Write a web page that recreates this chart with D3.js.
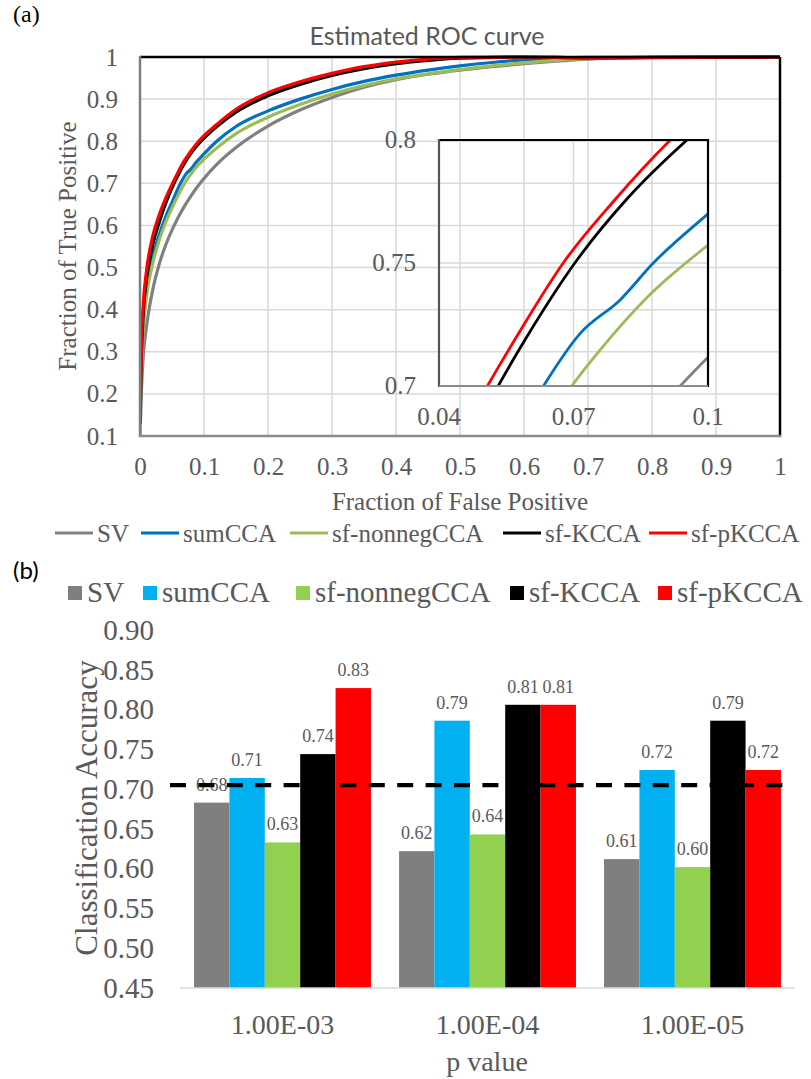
<!DOCTYPE html>
<html>
<head>
<meta charset="utf-8">
<script src="https://cdn.jsdelivr.net/npm/d3@7"></script>
<style>
  body { margin: 0; background: #fff; }
  text { fill: #595959; }
</style>
</head>
<body>
<div id="fig"></div>
<script>
// ---- (a) ROC curves ----
var rocNames = ["SV", "sumCCA", "sf-nonnegCCA", "sf-KCCA", "sf-pKCCA"];
var rocColours = ["#808080", "#0070c0", "#9bbb59", "#000000", "#ff0000"];

var svFpr = [0, 0.002, 0.005, 0.01, 0.02, 0.03, 0.04, 0.05, 0.06, 0.07, 0.08, 0.0938, 0.1, 0.12, 0.15, 0.2, 0.25, 0.3, 0.35, 0.4, 0.45, 0.5, 0.55, 0.6, 0.65, 0.7, 0.8, 1];
var svTpr = [0.10, 0.20, 0.288, 0.358, 0.448, 0.508, 0.553, 0.589, 0.620, 0.647, 0.671, 0.70, 0.7117, 0.745, 0.785, 0.836, 0.874, 0.904, 0.928, 0.946, 0.959, 0.969, 0.977, 0.984, 0.99, 0.995, 0.999, 1];

var sumFpr = [0, 0.002, 0.005, 0.01, 0.02, 0.03, 0.04, 0.05, 0.0633, 0.0715, 0.0804, 0.0878, 0.1, 0.12, 0.15, 0.2, 0.25, 0.3, 0.35, 0.4, 0.45, 0.5, 0.55, 0.6, 0.65, 0.7, 1];
var sumTpr = [0.12, 0.26, 0.37, 0.445, 0.525, 0.578, 0.62, 0.655, 0.70, 0.7214, 0.735, 0.75, 0.770, 0.80, 0.835, 0.872, 0.90, 0.923, 0.942, 0.957, 0.969, 0.979, 0.987, 0.993, 0.997, 0.999, 1];

var nonnegFpr = [0, 0.002, 0.005, 0.01, 0.02, 0.03, 0.04, 0.05, 0.06, 0.0696, 0.0759, 0.0864, 0.1, 0.12, 0.15, 0.2, 0.25, 0.3, 0.35, 0.4, 0.45, 0.5, 0.55, 0.6, 0.65, 0.7, 0.8, 1];
var nonnegTpr = [0.11, 0.24, 0.35, 0.43, 0.51, 0.565, 0.607, 0.642, 0.673, 0.70, 0.7146, 0.736, 0.7573, 0.784, 0.818, 0.857, 0.887, 0.912, 0.932, 0.948, 0.96, 0.97, 0.979, 0.986, 0.992, 0.996, 0.999, 1];

var kccaFpr = [0, 0.002, 0.005, 0.01, 0.02, 0.03, 0.04, 0.0532, 0.0596, 0.0707, 0.0819, 0.0953, 0.12, 0.15, 0.2, 0.25, 0.3, 0.35, 0.4, 0.45, 0.5, 0.6, 0.7, 1];
var kccaTpr = [0.13, 0.28, 0.39, 0.47, 0.555, 0.607, 0.652, 0.70, 0.72, 0.751, 0.776, 0.80, 0.835, 0.869, 0.908, 0.935, 0.956, 0.972, 0.984, 0.992, 0.997, 1, 0.998, 1];

var pkccaFpr = [0, 0.002, 0.005, 0.01, 0.02, 0.03, 0.04, 0.0508, 0.0573, 0.0681, 0.0789, 0.0916, 0.12, 0.15, 0.2, 0.25, 0.3, 0.35, 0.4, 0.45, 0.5, 0.6, 0.7, 0.8, 1];
var pkccaTpr = [0.13, 0.30, 0.41, 0.49, 0.575, 0.625, 0.664, 0.70, 0.72, 0.751, 0.775, 0.80, 0.84, 0.876, 0.915, 0.941, 0.961, 0.977, 0.988, 0.995, 0.999, 1, 0.998, 0.999, 1];

var rocFprs = [svFpr, sumFpr, nonnegFpr, kccaFpr, pkccaFpr];
var rocTprs = [svTpr, sumTpr, nonnegTpr, kccaTpr, pkccaTpr];

// ---- (b) classification accuracy ----
var pValues = ["1.00E-03", "1.00E-04", "1.00E-05"];
var barNames = ["SV", "sumCCA", "sf-nonnegCCA", "sf-KCCA", "sf-pKCCA"];
var barColours = ["#7f7f7f", "#00b0f0", "#92d050", "#000000", "#ff0000"];
var accSV = [0.683, 0.622, 0.612];
var accSum = [0.714, 0.786, 0.724];
var accNonneg = [0.633, 0.643, 0.602];
var accKCCA = [0.744, 0.806, 0.786];
var accPKCCA = [0.827, 0.806, 0.724];
var accThreshold = 0.705;
var accTicks = [0.45, 0.50, 0.55, 0.60, 0.65, 0.70, 0.75, 0.80, 0.85, 0.90];

var serif = "'Liberation Serif', 'Times New Roman', serif";
var grid = "#d9d9d9";

var svg = d3.select("#fig").append("svg")
    .attr("width", 811).attr("height", 1079)
    .style("font-family", serif);

// ===========================================================================
// panel (a)
var x = d3.scaleLinear().domain([0, 1]).range([140, 780]);
var y = d3.scaleLinear().domain([0.1, 1]).range([436, 57]);
var xTicks = d3.range(0, 11).map(function(i) { return i / 10; });
var yTicks = d3.range(1, 11).map(function(i) { return i / 10; });

svg.append("text").attr("x", 13).attr("y", 22).style("font-size", "24px")
    .style("fill", "#000").text("(a)");

svg.append("text").attr("x", 427).attr("y", 45)
    .attr("text-anchor", "middle")
    .style("font-family", "Lato, 'Open Sans', sans-serif")
    .style("font-size", "25px").text("Estimated ROC curve");

var ga = svg.append("g");
ga.selectAll(".vg").data(xTicks).enter().append("line")
    .attr("x1", x).attr("x2", x).attr("y1", y(0.1)).attr("y2", y(1))
    .attr("stroke", grid).attr("stroke-width", 1.5);
ga.selectAll(".hg").data(yTicks).enter().append("line")
    .attr("y1", y).attr("y2", y).attr("x1", x(0)).attr("x2", x(1))
    .attr("stroke", grid).attr("stroke-width", 1.5);

// tick labels via axes (no domain or tick marks)
var axB = ga.append("g").attr("transform", "translate(0,436)")
    .call(d3.axisBottom(x).tickValues(xTicks).tickSize(0).tickPadding(22).tickFormat(d3.format("~g")));
var axL = ga.append("g").attr("transform", "translate(140,0)")
    .call(d3.axisLeft(y).tickValues(yTicks).tickSize(0).tickPadding(22).tickFormat(d3.format("~g")));
[axB, axL].forEach(function(a) {
  a.select(".domain").remove();
  a.selectAll("text").style("font-family", serif).style("font-size", "25px").attr("fill", "#595959");
});
axB.selectAll("text").attr("dy", 0).attr("y", 39);

svg.append("text").attr("x", 460).attr("y", 510).attr("text-anchor", "middle")
    .style("font-size", "25px").text("Fraction of False Positive");
svg.append("text").attr("transform", "translate(76,246) rotate(-90)")
    .attr("text-anchor", "middle")
    .style("font-size", "25px").text("Fraction of True Positive");

svg.append("clipPath").attr("id", "clipMain").append("rect")
    .attr("x", 140).attr("y", 55).attr("width", 640).attr("height", 381);

var lineMain = d3.line()
    .x(function(d) { return x(d[0]); })
    .y(function(d) { return y(d[1]); })
    .curve(d3.curveMonotoneX);

function seriesPoints(i) {
  return rocFprs[i].map(function(f, j) { return [f, rocTprs[i][j]]; });
}

var curves = svg.append("g").attr("clip-path", "url(#clipMain)");
rocNames.forEach(function(n, i) {
  curves.append("path").datum(seriesPoints(i))
      .attr("d", lineMain).attr("fill", "none")
      .attr("stroke", rocColours[i]).attr("stroke-width", 3.2);
});

// frame
svg.append("line").attr("x1", 140).attr("x2", 780).attr("y1", 57).attr("y2", 57)
    .attr("stroke", "#000").attr("stroke-width", 2.5);
svg.append("line").attr("x1", 780).attr("x2", 780).attr("y1", 57).attr("y2", 437)
    .attr("stroke", "#000").attr("stroke-width", 2.5);
svg.append("line").attr("x1", 140).attr("x2", 140).attr("y1", 56).attr("y2", 437)
    .attr("stroke", "#7f7f7f").attr("stroke-width", 2.5);
svg.append("line").attr("x1", 139).attr("x2", 781).attr("y1", 436).attr("y2", 436)
    .attr("stroke", "#8c8c8c").attr("stroke-width", 2.5);

// ---- inset ----
var xi = d3.scaleLinear().domain([0.04, 0.1]).range([439, 708]);
var yi = d3.scaleLinear().domain([0.7, 0.8]).range([386, 140]);
var xiTicks = [0.04, 0.07, 0.1];
var yiTicks = [0.7, 0.75, 0.8];

var gi = svg.append("g");
gi.selectAll(".ivg").data(xiTicks).enter().append("line")
    .attr("x1", xi).attr("x2", xi).attr("y1", 140).attr("y2", 386)
    .attr("stroke", grid).attr("stroke-width", 1.5);
gi.selectAll(".ihg").data(yiTicks).enter().append("line")
    .attr("y1", yi).attr("y2", yi).attr("x1", 439).attr("x2", 708)
    .attr("stroke", grid).attr("stroke-width", 1.5);
gi.selectAll(".ixl").data(xiTicks).enter().append("text")
    .attr("x", xi).attr("y", 425).attr("text-anchor", "middle")
    .style("font-size", "25px").text(d3.format("~g"));
gi.selectAll(".iyl").data(yiTicks).enter().append("text")
    .attr("x", 416).attr("y", function(d) { return yi(d) + 8; }).attr("text-anchor", "end")
    .style("font-size", "25px").text(d3.format("~g"));

svg.append("clipPath").attr("id", "clipInset").append("rect")
    .attr("x", 439).attr("y", 140).attr("width", 269).attr("height", 246);

var lineInset = d3.line()
    .x(function(d) { return xi(d[0]); })
    .y(function(d) { return yi(d[1]); })
    .curve(d3.curveMonotoneX);

var icurves = svg.append("g").attr("clip-path", "url(#clipInset)");
rocNames.forEach(function(n, i) {
  icurves.append("path").datum(seriesPoints(i))
      .attr("d", lineInset).attr("fill", "none")
      .attr("stroke", rocColours[i]).attr("stroke-width", 2.8);
});

svg.append("line").attr("x1", 439).attr("x2", 708).attr("y1", 140).attr("y2", 140)
    .attr("stroke", "#000").attr("stroke-width", 2.2);
svg.append("line").attr("x1", 708).attr("x2", 708).attr("y1", 139).attr("y2", 387)
    .attr("stroke", "#000").attr("stroke-width", 2.2);
svg.append("line").attr("x1", 439).attr("x2", 439).attr("y1", 139).attr("y2", 387)
    .attr("stroke", "#555").attr("stroke-width", 2.2);
svg.append("line").attr("x1", 439).attr("x2", 708).attr("y1", 386).attr("y2", 386)
    .attr("stroke", "#8c8c8c").attr("stroke-width", 2.2);

// ---- legend (a) ----
var legAX = [55, 141, 290, 503, 649];
var legA = svg.append("g").attr("transform", "translate(0,533)");
rocNames.forEach(function(n, i) {
  legA.append("line").attr("x1", legAX[i]).attr("x2", legAX[i] + 38).attr("y1", 0).attr("y2", 0)
      .attr("stroke", rocColours[i]).attr("stroke-width", 3.2);
  legA.append("text").attr("x", legAX[i] + 42).attr("y", 9)
      .style("font-size", "25px").text(n);
});

// ===========================================================================
// panel (b)
svg.append("text").attr("x", 13).attr("y", 579)
    .style("font-family", "Lato, 'Open Sans', sans-serif")
    .style("font-size", "24px").style("fill", "#000").text("(b)");

var legBX = [68, 143, 296, 510, 658];
var legB = svg.append("g").attr("transform", "translate(0,593)");
barNames.forEach(function(n, i) {
  legB.append("rect").attr("x", legBX[i]).attr("y", -7).attr("width", 14).attr("height", 14)
      .attr("fill", barColours[i]);
  legB.append("text").attr("x", legBX[i] + 19).attr("y", 9)
      .style("font-size", "29px").text(n);
});

var x0 = d3.scaleBand().domain(pValues).range([180, 795])
    .paddingInner(0.137).paddingOuter(0.0685);
var x1 = d3.scaleBand().domain(barNames).range([0, x0.bandwidth()]);
var yb = d3.scaleLinear().domain([0.45, 0.9]).range([988, 630]);

var accBySeries = [accSV, accSum, accNonneg, accKCCA, accPKCCA];
var barData = [];
pValues.forEach(function(p, ci) {
  barNames.forEach(function(n, si) {
    barData.push({ p: p, name: n, colour: barColours[si], v: accBySeries[si][ci] });
  });
});

var gb = svg.append("g");
gb.selectAll("rect").data(barData).enter().append("rect")
    .attr("x", function(d) { return x0(d.p) + x1(d.name); })
    .attr("y", function(d) { return yb(d.v); })
    .attr("width", x1.bandwidth())
    .attr("height", function(d) { return yb(0.45) - yb(d.v); })
    .attr("fill", function(d) { return d.colour; });

// threshold line over the bars
svg.append("line").attr("x1", 170).attr("x2", 785)
    .attr("y1", yb(accThreshold)).attr("y2", yb(accThreshold))
    .attr("stroke", "#000").attr("stroke-width", 4.2)
    .attr("stroke-dasharray", "16,12.4");

gb.selectAll(".vl").data(barData).enter().append("text")
    .attr("x", function(d) { return x0(d.p) + x1(d.name) + x1.bandwidth() / 2; })
    .attr("y", function(d) { return yb(d.v) - 12; })
    .attr("text-anchor", "middle")
    .style("font-size", "18px")
    .text(function(d) { return d3.format(".2f")(d.v); });

// baseline
svg.append("line").attr("x1", 180).attr("x2", 795).attr("y1", 988).attr("y2", 988)
    .attr("stroke", grid).attr("stroke-width", 1.5);

var axBL = svg.append("g").attr("transform", "translate(154,0)")
    .call(d3.axisLeft(yb).tickValues(accTicks).tickSize(0).tickPadding(0).tickFormat(d3.format(".2f")));
axBL.select(".domain").remove();
axBL.selectAll("text").style("font-family", serif).style("font-size", "29px").attr("fill", "#595959");

var axBB = svg.append("g").attr("transform", "translate(0,988)")
    .call(d3.axisBottom(x0).tickSize(0));
axBB.select(".domain").remove();
axBB.selectAll("text").attr("dy", 0).attr("y", 46)
    .style("font-family", serif).style("font-size", "28px").attr("fill", "#595959");

svg.append("text").attr("x", 487).attr("y", 1071).attr("text-anchor", "middle")
    .style("font-size", "28px").text("p value");
svg.append("text").attr("transform", "translate(97,808) rotate(-90)")
    .attr("text-anchor", "middle")
    .style("font-size", "31px").text("Classification Accuracy");
</script>
</body>
</html>
